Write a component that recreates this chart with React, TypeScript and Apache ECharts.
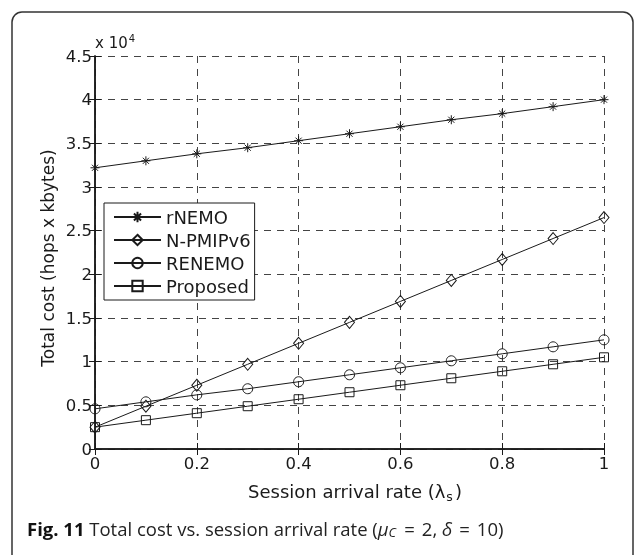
import React, { useEffect, useRef } from 'react';
import * as echarts from 'echarts';

const xValues = [0, 0.1, 0.2, 0.3, 0.4, 0.5, 0.6, 0.7, 0.8, 0.9, 1];
const rNEMO = [3.22, 3.30, 3.38, 3.45, 3.53, 3.61, 3.69, 3.77, 3.84, 3.92, 4.0];
const nPMIPv6 = [0.25, 0.49, 0.73, 0.97, 1.21, 1.45, 1.69, 1.93, 2.17, 2.41, 2.65];
const RENEMO = [0.46, 0.54, 0.62, 0.69, 0.77, 0.85, 0.93, 1.01, 1.09, 1.17, 1.25];
const proposed = [0.25, 0.33, 0.41, 0.49, 0.57, 0.65, 0.73, 0.81, 0.89, 0.97, 1.05];
const seriesNames = ['rNEMO', 'N-PMIPv6', 'RENEMO', 'Proposed'];

const STAR = 'path://M5 0 L5 10 M0 5 L10 5 M1.6 1.6 L8.4 8.4 M1.6 8.4 L8.4 1.6';

export default function App() {
  const ref = useRef<HTMLDivElement>(null);
  useEffect(() => {
    const chart = echarts.init(ref.current!, null, { renderer: 'svg' });
    const font = 'DejaVu Sans';
    const ink = '#1a1a1a';
    const mk = (name: string, data: number[], symbol: string, size: number | number[]) => ({
      name,
      type: 'line',
      data: xValues.map((x, i) => [x, data[i]]),
      symbol,
      symbolSize: size,
      showSymbol: true,
      color: ink,
      lineStyle: { color: ink, width: 1 },
      itemStyle: { color: 'rgba(0,0,0,0)', borderColor: ink, borderWidth: 1 },
      emphasis: { disabled: true },
      silent: true,
    });
    const cap = 'Open Sans';
    const capSize = 18.5;
    chart.setOption({
      animation: false,
      grid: { left: 95, right: 32, top: 56, bottom: 106 },
      xAxis: [
        {
          type: 'value', min: 0, max: 1, interval: 0.2, position: 'bottom',
          axisLine: { show: true, lineStyle: { color: ink, width: 1.5 } },
          axisTick: { show: true, inside: true, length: 6, lineStyle: { color: ink } },
          axisLabel: { margin: 6, fontFamily: font, fontSize: 16.5, color: ink },
          splitLine: { show: true, lineStyle: { color: '#444', type: [7, 6], width: 1 } },
        },
        {
          type: 'value', min: 0, max: 1, interval: 0.2, position: 'top',
          axisLine: { show: true, lineStyle: { color: ink, width: 1.5 } },
          axisTick: { show: true, inside: true, length: 6, lineStyle: { color: ink } },
          axisLabel: { show: false }, splitLine: { show: false },
        },
      ],
      yAxis: [
        {
          type: 'value', min: 0, max: 4.5, interval: 0.5, position: 'left',
          axisLine: { show: true, lineStyle: { color: ink, width: 1.5 } },
          axisTick: { show: true, inside: true, length: 6, lineStyle: { color: ink } },
          axisLabel: { margin: 3, fontFamily: font, fontSize: 16.5, color: ink },
          splitLine: { show: true, lineStyle: { color: '#444', type: [7, 6], width: 1 } },
        },
        {
          type: 'value', min: 0, max: 4.5, interval: 0.5, position: 'right',
          axisLine: { show: true, lineStyle: { color: ink, width: 1.5 } },
          axisTick: { show: true, inside: true, length: 6, lineStyle: { color: ink } },
          axisLabel: { show: false }, splitLine: { show: false },
        },
      ],
      legend: {
        data: seriesNames,
        orient: 'vertical',
        left: 104,
        top: 203,
        backgroundColor: '#fff',
        borderColor: ink,
        borderWidth: 1,
        padding: [5, 4, 5, 9],
        itemWidth: 47,
        itemHeight: 13,
        itemGap: 5,
        selectedMode: false,
        textStyle: { fontFamily: font, fontSize: 18, color: ink, lineHeight: 18 },
      },
      series: [
        mk(seriesNames[0], rNEMO, STAR, 9),
        mk(seriesNames[1], nPMIPv6, 'diamond', [10, 12]),
        mk(seriesNames[2], RENEMO, 'circle', 10),
        mk(seriesNames[3], proposed, 'rect', 9),
      ],
      graphic: [
        {
          type: 'rect', silent: true,
          shape: { x: 12, y: 12, width: 621, height: 620, r: 10 },
          style: { fill: 'none', stroke: '#333', lineWidth: 1.5 },
        },
        {
          type: 'text', x: 95, y: 43, silent: true,
          style: {
            text: '{a|x 10}{s|4}', verticalAlign: 'middle', align: 'left',
            rich: {
              a: { fontFamily: font, fontSize: 15, fill: ink },
              s: { fontFamily: font, fontSize: 10, fill: ink, padding: [0, 0, 9, 1] },
            },
          },
        },
        {
          type: 'text', x: 355, y: 491, silent: true,
          style: {
            text: '{a|Session arrival rate (λ}{s|s}{a|)}', align: 'center', verticalAlign: 'middle',
            rich: {
              a: { fontFamily: font, fontSize: 18, fill: ink },
              s: { fontFamily: font, fontSize: 12.5, fill: ink, padding: [11, 2, 0, 1] },
            },
          },
        },
        {
          type: 'text', x: 48, y: 258, rotation: Math.PI / 2, silent: true,
          style: {
            text: 'Total cost (hops x kbytes)', align: 'center', verticalAlign: 'middle',
            fontFamily: font, fontSize: 17, fill: ink,
          },
        },
        {
          type: 'text', x: 27, y: 528, silent: true,
          style: {
            text: '{b|Fig. 11}{n| Total cost vs. session arrival rate (}{i|μ}{c|C}{e|=}{n|2,}{i| δ}{e|=}{n|10)}',
            align: 'left', verticalAlign: 'middle',
            rich: {
              b: { fontFamily: cap, fontWeight: 'bold', fontSize: capSize, fill: '#111' },
              n: { fontFamily: cap, fontSize: capSize, fill: '#222' },
              e: { fontFamily: cap, fontSize: capSize, fill: '#222', padding: [0, 7, 0, 7] },
              i: { fontFamily: cap, fontStyle: 'italic', fontSize: capSize, fill: '#222' },
              c: { fontFamily: cap, fontStyle: 'italic', fontSize: 13, fill: '#222', padding: [7, 1, 0, 0] },
            },
          },
        },
      ],
    });
    return () => chart.dispose();
  }, []);
  return <div ref={ref} style={{ position: 'fixed', left: 0, top: 0, width: 636, height: 555 }} />;
}
